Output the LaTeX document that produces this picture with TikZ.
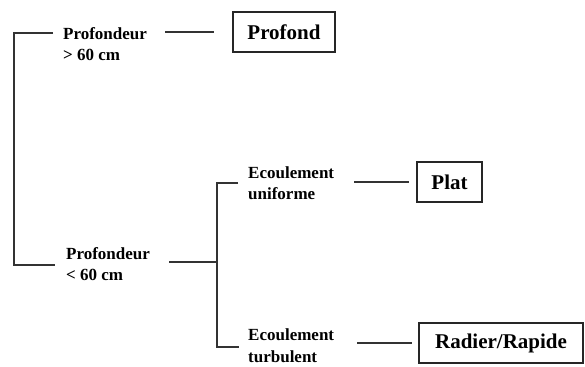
\documentclass[tikz,border=0pt]{standalone}
\usepackage{fontspec}
\setmainfont{Liberation Serif}
\usetikzlibrary{positioning}
\tikzset{
  crit/.style={font=\bfseries\fontsize{17}{21}\selectfont,align=left,inner sep=0pt,anchor=north west}, % criterion
  cls/.style={draw=black!85,line width=1.8pt,font=\bfseries\fontsize{21}{24}\selectfont,inner sep=0pt,minimum height=40pt}, % class box
  link/.style={black!80,line width=1.8pt},
}

\begin{document}
\begin{tikzpicture}[x=1pt,y=-1pt]
  \useasboundingbox (0,0) rectangle (585,366);
  % criteria
  \node[crit] (deep) at (63,27) {Profondeur\\> 60 cm};
  \node[crit] (shallow) at (66,247) {Profondeur\\< 60 cm};
  \node[crit] (unif) at (248,167) {Ecoulement\\uniforme};
  \node[crit] (turb) at (248,329) {Ecoulement\\turbulent};
  % classes
  \node[cls,minimum width=102pt] (profond) at (284,32) {Profond};
  \node[cls,minimum width=65pt] (plat) at (449.5,182) {Plat};
  \node[cls,minimum width=164pt] (radier) at (501,343) {Radier/Rapide};
  % brackets
  \coordinate (spineA) at (14,150);
  \coordinate (spineB) at (217,262);
  \draw[link] ([shift={(-10pt,-6pt)}]deep.north west) -| (spineA) |- ([shift={(-11pt,-18pt)}]shallow.north west);
  \draw[link] ([xshift=19pt]shallow.east |- spineB) -- (spineB);
  \draw[link] ([shift={(-10pt,-16pt)}]unif.north west) -| (spineB) |- ([shift={(-9pt,-18pt)}]turb.north west);
  % to classes
  \draw[link] ([xshift=18pt]deep.east |- profond.west) -- ([xshift=-18pt]profond.west);
  \draw[link] ([xshift=20pt]unif.east |- plat.west) -- ([xshift=-7pt]plat.west);
  \draw[link] ([xshift=23pt]turb.east |- radier.west) -- ([xshift=-6pt]radier.west);
\end{tikzpicture}
\end{document}
